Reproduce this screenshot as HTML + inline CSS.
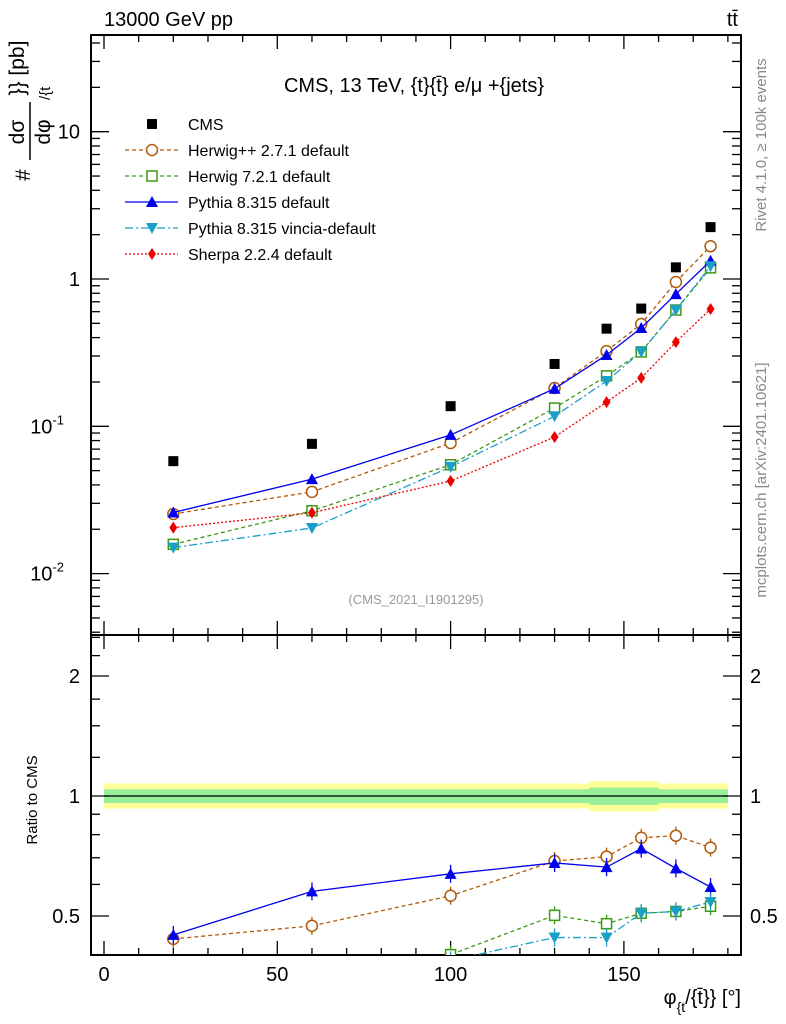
<!DOCTYPE html>
<html><head><meta charset="utf-8"><style>
body{margin:0;background:#fff;}
svg{display:block;font-family:"Liberation Sans",sans-serif;}
</style></head><body>
<svg id="c" width="786" height="1024" viewBox="0 0 786 1024" xmlns="http://www.w3.org/2000/svg">
<text x="104" y="26" font-size="20">13000 GeV pp</text>
<text x="738" y="26" font-size="20" text-anchor="end">tt̄</text>
<text x="414" y="92" font-size="20" text-anchor="middle">CMS, 13 TeV, {t}{t̄} e/μ +{jets}</text>
<text x="416" y="604" font-size="13" fill="#999" text-anchor="middle">(CMS_2021_I1901295)</text>
<text transform="translate(766,145) rotate(-90)" font-size="15" fill="#888" text-anchor="middle">Rivet 4.1.0, ≥ 100k events</text>
<text transform="translate(766,480) rotate(-90)" font-size="15" fill="#888" text-anchor="middle">mcplots.cern.ch [arXiv:2401.10621]</text>
<g transform="translate(30,110) rotate(-90)" font-size="21">
<text x="-65" y="0" text-anchor="middle">#</text>
<text x="-22" y="-6" text-anchor="middle">dσ</text>
<line x1="-50" y1="0" x2="8" y2="0" stroke="#000" stroke-width="1.5"/>
<text x="-22" y="20" text-anchor="middle">dφ</text>
<text x="10" y="20" font-size="15">/{t</text>
<text x="42" y="-6" text-anchor="middle">}} [pb]</text>
</g>
<text transform="translate(37,800) rotate(-90)" font-size="15" text-anchor="middle">Ratio to CMS</text>
<text x="741" y="1004" font-size="20" text-anchor="end">φ<tspan font-size="14" dy="8">{t</tspan><tspan dy="-8">/{t̄}} [°]</tspan></text>
<g id="plot"></g>
</svg>
<script>
const xs=[20,60,100,130,145,155,165,175];
const cms=[0.058,0.076,0.137,0.265,0.46,0.63,1.2,2.25];
const herwigpp=[0.0254,0.0359,0.077,0.182,0.324,0.495,0.954,1.67];
const herwig7=[0.0158,0.0267,0.0548,0.133,0.22,0.32,0.616,1.19];
const pythia=[0.026,0.0438,0.0874,0.18,0.305,0.465,0.79,1.33];
const vincia=[0.015,0.0204,0.053,0.117,0.203,0.32,0.616,1.22];
const sherpa=[0.0205,0.0259,0.0425,0.0846,0.146,0.213,0.373,0.626];
const xTicks=[0,50,100,150];
const mainTicks=[["10","-2"],["10","-1"],["1",""],["10",""]];
const ratioTicks=[0.5,1,2];

const NS="http://www.w3.org/2000/svg";
const g=document.getElementById('plot');
function el(t,a,p){const e=document.createElementNS(NS,t);for(const k in a)e.setAttribute(k,a[k]);(p||g).appendChild(e);return e;}
const L=91,R=741,T=35,MB=635,RB=955;
const X=v=>104+v*3.466;
const Y=v=>279-Math.log10(v)*147.3;
const YR=v=>796-Math.log2(v)*120;

const defs=el('defs',{});
const c1=el('clipPath',{id:'cm'},defs);el('rect',{x:L,y:T,width:R-L,height:MB-T},c1);
const c2=el('clipPath',{id:'cr'},defs);el('rect',{x:L,y:MB,width:R-L,height:RB-MB},c2);

const band=el('g',{'clip-path':'url(#cr)'});


el('rect',{x:X(0),y:YR(1.075),width:X(180)-X(0),height:YR(0.93)-YR(1.075),fill:'#ffff99'},band);
el('rect',{x:X(140),y:YR(1.09),width:X(160)-X(140),height:YR(0.915)-YR(1.09),fill:'#ffff99'},band);
el('rect',{x:X(0),y:YR(1.04),width:X(180)-X(0),height:YR(0.96)-YR(1.04),fill:'#99ee99'},band);
el('rect',{x:X(140),y:YR(1.05),width:X(160)-X(140),height:YR(0.95)-YR(1.05),fill:'#99ee99'},band);
el('line',{x1:X(0),x2:X(180),y1:YR(1),y2:YR(1),stroke:'#000','stroke-width':1.2},band);

const f1=el('rect',{x:L,y:T,width:R-L,height:MB-T,fill:'none',stroke:'#000','stroke-width':2});

const f2=el('rect',{x:L,y:MB,width:R-L,height:RB-MB,fill:'none',stroke:'#000','stroke-width':2});


for(let v=0;v<=180;v+=10){const maj=v%50===0;const len=maj?14:7;
 for(const[yb,yt]of[[MB,T],[RB,MB]]){el('line',{x1:X(v),x2:X(v),y1:yb,y2:yb-len,stroke:'#000','stroke-width':1.3});el('line',{x1:X(v),x2:X(v),y1:yt,y2:yt+len,stroke:'#000','stroke-width':1.3});}}
xTicks.forEach(v=>{const t=el('text',{x:X(v),y:981,'font-size':20,'text-anchor':'middle'});t.textContent=v;
 });
for(let d=-3;d<=1;d++)for(let m=1;m<10;m++){const v=m*Math.pow(10,d);const y=Y(v);if(y<T||y>MB)continue;const len=m===1?18:9;
 el('line',{x1:L,x2:L+len,y1:y,y2:y,stroke:'#000','stroke-width':1.3});el('line',{x1:R,x2:R-len,y1:y,y2:y,stroke:'#000','stroke-width':1.3});}
[0.01,0.1,1,10].forEach((v,i)=>{const t=el('text',{x:80,y:Y(v)+7,'font-size':20,'text-anchor':'end'});
 
 t.textContent=mainTicks[i][0];if(mainTicks[i][1]){t.setAttribute('x',64);const s=document.createElementNS(NS,'tspan');s.setAttribute('font-size',13);s.setAttribute('dy',-9);s.textContent=mainTicks[i][1];t.appendChild(s);}});
[0.4,0.5,0.6,0.7,0.8,0.9,1,1.25,1.5,1.75,2,2.25,2.5].forEach(v=>{const y=YR(v);if(y<MB||y>RB)return;const maj=ratioTicks.includes(v);const len=maj?18:9;
 el('line',{x1:L,x2:L+len,y1:y,y2:y,stroke:'#000','stroke-width':1.3});el('line',{x1:R,x2:R-len,y1:y,y2:y,stroke:'#000','stroke-width':1.3});});
ratioTicks.forEach(v=>{for(const[x,a]of[[80,'end'],[750,'start']]){const t=el('text',{x:x,y:YR(v)+7,'font-size':20,'text-anchor':a});t.textContent=v;
 }});

function marker(p,type,x,y,col){
 if(type==='sq')el('rect',{x:x-5,y:y-5,width:10,height:10,fill:col},p);
 else if(type==='osq')el('rect',{x:x-5,y:y-5,width:10,height:10,fill:'#fff',stroke:col,'stroke-width':1.5},p);
 else if(type==='oc')el('circle',{cx:x,cy:y,r:5.5,fill:'#fff',stroke:col,'stroke-width':1.5},p);
 else if(type==='tu')el('polygon',{points:`${x},${y-6} ${x-6},${y+5} ${x+6},${y+5}`,fill:col},p);
 else if(type==='td')el('polygon',{points:`${x},${y+6} ${x-6},${y-5} ${x+6},${y-5}`,fill:col},p);
 else if(type==='di')el('polygon',{points:`${x},${y-6} ${x-4},${y} ${x},${y+6} ${x+4},${y}`,fill:col},p);
}
const series=[
 ['herwigpp',herwigpp,'#b05a0a','oc','4,3','Herwig++ 2.7.1 default'],
 ['herwig7',herwig7,'#3a9a12','osq','4,3','Herwig 7.2.1 default'],
 ['pythia',pythia,'#0000ee','tu','','Pythia 8.315 default'],
 ['vincia',vincia,'#1aa0c8','td','8,3,2,3','Pythia 8.315 vincia-default'],
 ['sherpa',sherpa,'#ee0000','di','2,2','Sherpa 2.2.4 default']];
const cg=el('g',{'clip-path':'url(#cm)'});

xs.forEach((x,i)=>marker(cg,'sq',X(x),Y(cms[i]),'#000'));
series.forEach(([nm,vals,col,mk,dash])=>{
 const pg=el('g',{'clip-path':'url(#cm)'});
 
 el('polyline',{points:xs.map((x,i)=>X(x)+','+Y(vals[i])).join(' '),fill:'none',stroke:col,'stroke-width':1.3,'stroke-dasharray':dash},pg);
 xs.forEach((x,i)=>marker(pg,mk,X(x),Y(vals[i]),col));
 const rg=el('g',{'clip-path':'url(#cr)'});
 
 el('polyline',{points:xs.map((x,i)=>X(x)+','+YR(vals[i]/cms[i])).join(' '),fill:'none',stroke:col,'stroke-width':1.3,'stroke-dasharray':dash},rg);
 xs.forEach((x,i)=>{const y=YR(vals[i]/cms[i]);el('line',{x1:X(x),x2:X(x),y1:y-9,y2:y+9,stroke:col,'stroke-width':1.3},rg);marker(rg,mk,X(x),y,col);});
});
const lg=el('g',{});
const rows=[['CMS','#000','sq','']].concat(series.map(s=>[s[5],s[2],s[3],s[4]]));
rows.forEach(([lab,col,mk,dash],i)=>{const y=124+i*26;
 const e=el('g',{},lg);
 if(i>0)el('line',{x1:125,x2:178,y1:y,y2:y,stroke:col,'stroke-width':1.3,'stroke-dasharray':dash},e);
 marker(e,mk,152,y,col);
 const t=el('text',{x:188,y:y+6,'font-size':16},e);t.textContent=lab;});
</script>
</body></html>
